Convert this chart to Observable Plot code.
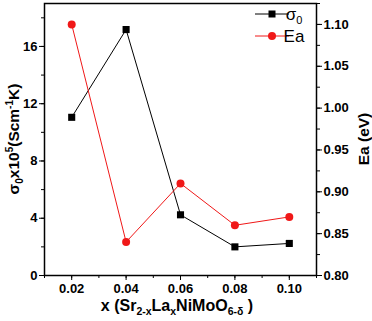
<!DOCTYPE html>
<html><head><meta charset="utf-8">
<script src="https://cdn.jsdelivr.net/npm/d3@7"></script>
<script src="https://cdn.jsdelivr.net/npm/@observablehq/plot@0.6"></script>
<style>body{margin:0;background:#fff}svg{display:block}</style>
</head><body><div id="chart"></div>
<script>
const xValues = [0.02, 0.04, 0.06, 0.08, 0.10];
const sigmaValues = [11.05, 17.18, 4.24, 2.0, 2.24];
const eaValues = [1.10, 0.84, 0.91, 0.86, 0.87];
const xTicks = [0.02, 0.04, 0.06, 0.08, 0.10];
const sigmaTicks = [0, 4, 8, 12, 16];
const eaTicks = [0.80, 0.85, 0.90, 0.95, 1.00, 1.05, 1.10];

const sigmaDomain = [0, 19];
const eaDomain = [0.8, 1.125];
const eaToSigma = d3.scaleLinear(eaDomain, sigmaDomain);
const data = xValues.map((x, i) => ({x, sigma: sigmaValues[i], ea: eaToSigma(eaValues[i])}));

const font = "'Liberation Sans', Arial, sans-serif";
const plot = Plot.plot({
  width: 372, height: 321,
  marginTop: 3, marginBottom: 46, marginLeft: 44, marginRight: 56,
  style: {fontFamily: font, fontSize: "13px", fontWeight: "bold", color: "black"},
  x: {domain: [0.01, 0.11]},
  y: {domain: sigmaDomain},
  marks: [
    Plot.frame({stroke: "black", strokeWidth: 1.5}),
    Plot.axisX(d3.range(0.01, 0.111, 0.01).map(d => +d.toFixed(2)), {tickSize: 3, tickFormat: () => "", label: null}),
    Plot.axisX(xTicks, {tickSize: 5, tickPadding: 3, tickFormat: d => d.toFixed(2), label: null}),
    Plot.axisY(d3.range(0, 19, 2), {tickSize: 3, tickFormat: () => "", label: null}),
    Plot.axisY(sigmaTicks, {tickSize: 5, tickPadding: 2, label: null}),
    Plot.axisY(d3.range(0.8, 1.126, 0.025).map(eaToSigma), {anchor: "right", tickSize: 3, tickFormat: () => "", label: null}),
    Plot.axisY(eaTicks.map(eaToSigma), {anchor: "right", tickSize: 5, tickPadding: 2, tickFormat: d => eaToSigma.invert(d).toFixed(2), label: null}),
    Plot.line(data, {x: "x", y: "sigma", stroke: "black", strokeWidth: 1}),
    Plot.dot(data, {x: "x", y: "sigma", symbol: "square", r: 4, fill: "black"}),
    Plot.line(data, {x: "x", y: "ea", stroke: "#f01818", strokeWidth: 1}),
    Plot.dot(data, {x: "x", y: "ea", r: 4, fill: "#f01818"})
  ]
});
document.getElementById("chart").append(plot);

const svg = d3.select(plot);
const tf = "font-family:" + font + ";";
// y-axis title
const yt = svg.append("text").attr("transform", "translate(19,139) rotate(-90)")
  .attr("text-anchor", "middle").attr("style", tf + "font-size:15.5px;font-weight:bold").attr("fill", "black");
yt.append("tspan").text("σ");
yt.append("tspan").attr("dy", 4).attr("font-size", 10).text("0");
yt.append("tspan").attr("dy", -4).text("x10");
yt.append("tspan").attr("dy", -6).attr("font-size", 10).text("5");
yt.append("tspan").attr("dy", 6).text("(Scm");
yt.append("tspan").attr("dy", -6).attr("font-size", 10).text("-1");
yt.append("tspan").attr("dy", 6).text("K)");
// right title
svg.append("text").attr("transform", "translate(369,139) rotate(-90)")
  .attr("text-anchor", "middle").attr("style", tf + "font-size:15.5px;font-weight:bold").attr("fill", "black").text("Ea (eV)");
// x title
const xt = svg.append("text").attr("x", 177).attr("y", 311)
  .attr("text-anchor", "middle").attr("style", tf + "font-size:16px;font-weight:bold").attr("fill", "black");
xt.append("tspan").text("x (Sr");
xt.append("tspan").attr("dy", 4).attr("font-size", 10.5).text("2-x");
xt.append("tspan").attr("dy", -4).text("La");
xt.append("tspan").attr("dy", 4).attr("font-size", 10.5).text("x");
xt.append("tspan").attr("dy", -4).text("NiMoO");
xt.append("tspan").attr("dy", 4).attr("font-size", 10.5).text("6-δ");
xt.append("tspan").attr("dy", -4).text(" )");
// legend
const leg = svg.append("g");
const items = [{label: "σ", sub: "0", color: "black", sym: "square", y: 14}, {label: "Ea", color: "#f01818", sym: "circle", y: 36}];
for (const it of items) {
  leg.append("line").attr("x1", 255).attr("x2", 289).attr("y1", it.y).attr("y2", it.y).attr("stroke", it.color);
  if (it.sym === "square") leg.append("rect").attr("x", 268.5).attr("y", it.y - 3.5).attr("width", 7).attr("height", 7).attr("fill", it.color);
  else leg.append("circle").attr("cx", 272).attr("cy", it.y).attr("r", 4).attr("fill", it.color);
  const t = leg.append("text").attr("x", 294).attr("y", it.y + 6).attr("style", tf + "font-size:17px;font-weight:normal").attr("fill", "black");
  t.append("tspan").text(it.label);
  if (it.sub) t.append("tspan").attr("dy", 4).attr("font-size", 11).text(it.sub);
}
</script></body></html>
